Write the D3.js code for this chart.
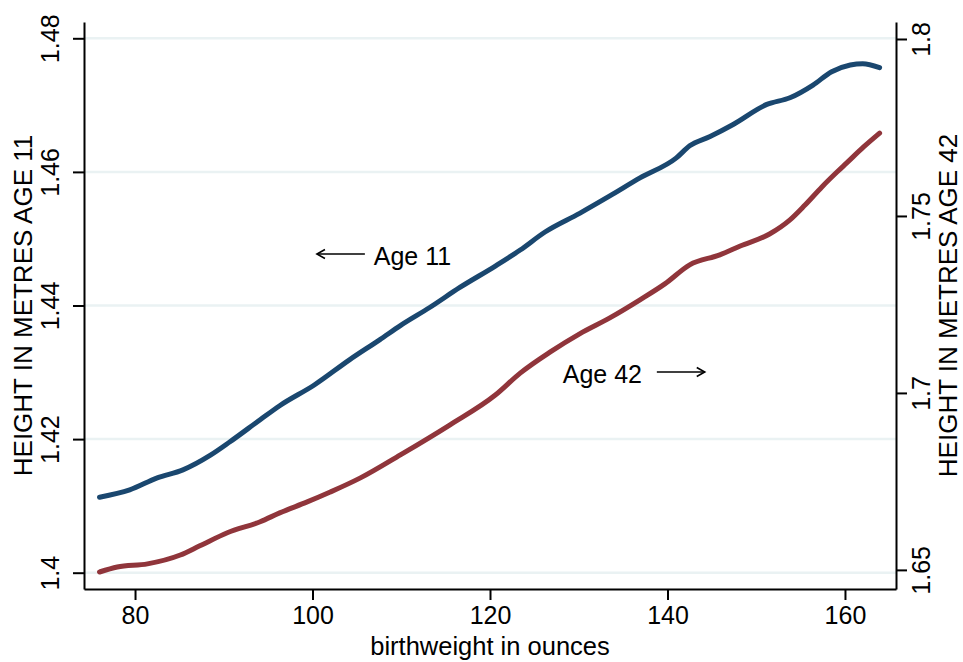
<!DOCTYPE html>
<html>
<head>
<meta charset="utf-8">
<script src="https://cdn.jsdelivr.net/npm/d3@7"></script>
<style>
  body { margin: 0; background: #fff; }
  text { font-family: "Liberation Sans", Arial, sans-serif; fill: #000; }
</style>
</head>
<body>
<div id="chart"></div>
<script>
// birthweight (ounces) and smoothed height
var bw11 = [76, 79.4, 82.5, 85.4, 88.5, 90.7, 94.1, 96.3, 100.2, 104.2, 107.6, 109.9, 113.2, 116.6, 120.6, 123.4, 126.2, 130.1, 133.5, 136.9, 141, 142.5, 144.8, 147.4, 151.2, 153.8, 156.4, 158.5, 160.6, 162, 163.9];
var ht11 = [1.4113, 1.4124, 1.4142, 1.4154, 1.4176, 1.4196, 1.4229, 1.425, 1.4281, 1.4319, 1.4349, 1.437, 1.4397, 1.4427, 1.4459, 1.4483, 1.451, 1.4538, 1.4564, 1.4591, 1.4621, 1.4639, 1.4653, 1.4671, 1.4701, 1.4711, 1.473, 1.475, 1.476, 1.4762, 1.4756];

var bw42 = [76, 78, 81.4, 85.1, 87.3, 90.4, 94.1, 96.3, 99.4, 102, 105.4, 109.9, 115.5, 120.6, 123.4, 126.8, 130.1, 133.5, 136.9, 139.7, 142.5, 145.9, 148.2, 151.5, 153.8, 155.5, 157.4, 159.1, 160.2, 162.1, 163.9];
var ht42 = [1.6494, 1.6508, 1.6517, 1.6542, 1.6568, 1.6605, 1.6636, 1.6661, 1.6692, 1.672, 1.676, 1.6825, 1.691, 1.6994, 1.7056, 1.7116, 1.7167, 1.7212, 1.7263, 1.7308, 1.7362, 1.739, 1.7415, 1.7449, 1.7489, 1.7531, 1.7582, 1.7624, 1.765, 1.7695, 1.7734];

var xTicks = [80, 100, 120, 140, 160];
var leftTicks = [1.4, 1.42, 1.44, 1.46, 1.48];
var rightTicks = [1.65, 1.7, 1.75, 1.8];

// annotations: text x, arrow from -> to, y
var note11 = {label: "Age 11", tx: 106.9, from: 105.9, to: 100.5, y: 1.4477};
var note42 = {label: "Age 42", tx: 128.2, from: 138.8, to: 144.2, y: 1.7059};

var margin = {top: 22, right: 67, bottom: 73, left: 84},
    width = 963 - margin.left - margin.right,
    height = 662 - margin.top - margin.bottom;

var svg = d3.select("#chart").append("svg")
    .attr("width", width + margin.left + margin.right)
    .attr("height", height + margin.top + margin.bottom)
  .append("g")
    .attr("transform", "translate(" + margin.left + "," + margin.top + ")");

var x = d3.scaleLinear().domain([74.25, 165.75]).range([0, width]);
var yL = d3.scaleLinear().domain([1.39756, 1.48244]).range([height, 0]);
var yR = d3.scaleLinear().domain([1.6446, 1.8048]).range([height, 0]);

// grid
svg.selectAll(".grid")
    .data(leftTicks)
    .enter().append("line")
    .attr("x1", 0).attr("x2", width)
    .attr("y1", function(d) { return yL(d); })
    .attr("y2", function(d) { return yL(d); })
    .attr("stroke", "#eaf2f3")
    .attr("stroke-width", 2.5);

var line11 = d3.line()
    .x(function(d, i) { return x(bw11[i]); })
    .y(function(d) { return yL(d); })
    .curve(d3.curveMonotoneX);
var line42 = d3.line()
    .x(function(d, i) { return x(bw42[i]); })
    .y(function(d) { return yR(d); })
    .curve(d3.curveMonotoneX);

svg.append("path").datum(ht11)
    .attr("d", line11)
    .attr("fill", "none")
    .attr("stroke", "#1a476f")
    .attr("stroke-width", 5)
    .attr("stroke-linecap", "round")
    .attr("stroke-linejoin", "round");

svg.append("path").datum(ht42)
    .attr("d", line42)
    .attr("fill", "none")
    .attr("stroke", "#90353b")
    .attr("stroke-width", 5)
    .attr("stroke-linecap", "round")
    .attr("stroke-linejoin", "round");

// axes
function styleAxis(g) {
  g.select(".domain").attr("stroke", "#000").attr("stroke-width", 2);
  g.selectAll(".tick line").attr("stroke", "#000").attr("stroke-width", 2);
  g.selectAll(".tick text").attr("font-size", 25).attr("fill", "#000");
}

var gx = svg.append("g")
    .attr("transform", "translate(0," + height + ")")
    .call(d3.axisBottom(x).tickValues(xTicks).tickSize(11).tickSizeOuter(0).tickPadding(6));
styleAxis(gx);
gx.selectAll(".tick text").attr("dy", "0.71em");

var gl = svg.append("g")
    .call(d3.axisLeft(yL).tickValues(leftTicks).tickSize(11).tickSizeOuter(0)
      .tickFormat(function(d) { return d; }));
styleAxis(gl);
gl.selectAll(".tick text")
    .attr("x", 0).attr("dy", 0)
    .attr("text-anchor", "middle")
    .attr("transform", "translate(-25,0) rotate(-90)");

var gr = svg.append("g")
    .attr("transform", "translate(" + width + ",0)")
    .call(d3.axisRight(yR).tickValues(rightTicks).tickSize(11).tickSizeOuter(0)
      .tickFormat(function(d) { return d; }));
styleAxis(gr);
gr.selectAll(".tick text")
    .attr("x", 0).attr("dy", 0)
    .attr("text-anchor", "middle")
    .attr("transform", "translate(34,0) rotate(-90)");

// titles
svg.append("text")
    .attr("transform", "translate(" + (-52) + "," + (height / 2) + ") rotate(-90)")
    .attr("text-anchor", "middle")
    .attr("font-size", 26)
    .text("HEIGHT IN METRES AGE 11");

svg.append("text")
    .attr("transform", "translate(" + (width + 61) + "," + (height / 2) + ") rotate(-90)")
    .attr("text-anchor", "middle")
    .attr("font-size", 26)
    .text("HEIGHT IN METRES AGE 42");

svg.append("text")
    .attr("x", width / 2)
    .attr("y", height + 66)
    .attr("text-anchor", "middle")
    .attr("font-size", 25.5)
    .text("birthweight in ounces");

// annotations
function arrow(n, yScale) {
  var yy = yScale(n.y);
  var x0 = x(n.from), x1 = x(n.to);
  var dir = x1 > x0 ? -1 : 1;
  svg.append("line")
      .attr("x1", x0).attr("x2", x1)
      .attr("y1", yy).attr("y2", yy)
      .attr("stroke", "#000").attr("stroke-width", 1.6);
  svg.append("path")
      .attr("d", "M" + (x1 + dir * 8) + "," + (yy - 4.5) + "L" + x1 + "," + yy + "L" + (x1 + dir * 8) + "," + (yy + 4.5))
      .attr("fill", "none")
      .attr("stroke", "#000").attr("stroke-width", 1.6);
  svg.append("text")
      .attr("x", x(n.tx))
      .attr("y", yy)
      .attr("dy", "0.44em")
      .attr("font-size", 25)
      .text(n.label);
}
arrow(note11, yL);
arrow(note42, yR);
</script>
</body>
</html>
